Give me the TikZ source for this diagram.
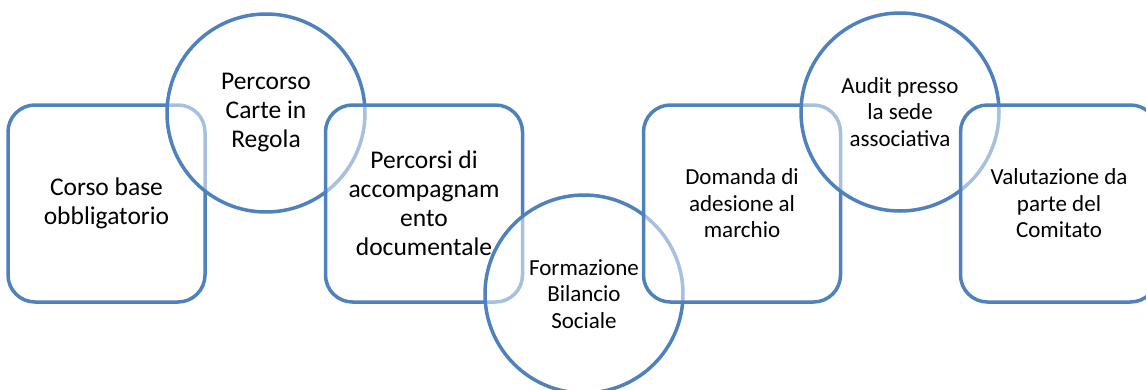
\documentclass[tikz,border=0pt]{standalone}
\usepackage{fontspec}
\setmainfont{Carlito}
\definecolor{stepblue}{HTML}{4F81BD}
\begin{document}
\begin{tikzpicture} [x=1pt,y=-1pt,
	stepbox/.style={draw=stepblue,line width=3.5pt,rounded corners=27pt,fill=white,fill opacity=0.5,text opacity=1,minimum width=197pt,minimum height=197pt,inner sep=0pt,align=center},
	stepring/.style={draw=stepblue,line width=3.5pt,circle,fill=white,fill opacity=0.5,text opacity=1,minimum size=198pt,inner sep=0pt,align=center},
	bigtext/.style={font=\fontsize{25.5}{29}\selectfont},
	smalltext/.style={font=\fontsize{23}{26.5}\selectfont}]
		\useasboundingbox (0,0) rectangle (1146,389);
		\clip (0,0) rectangle (1146,389);
		\node [stepbox,bigtext] (corso) at (106.5,203.5) {Corso base\\obbligatorio};
		\node [stepring,bigtext] (carte) at (266,113) {Percorso\\Carte in\\Regola};
		\node [stepbox,bigtext] (accomp) at (424,203.5) {Percorsi di\\accompagnam\\ento\\documentale};
		\node [stepring,smalltext] (bilancio) at (584,294) {Formazione\\Bilancio\\Sociale};
		\node [stepbox,smalltext] (domanda) at (742,203.5) {Domanda di\\adesione al\\marchio};
		\node [stepring,smalltext] (audit) at (900,112) {Audit presso\\la sede\\associativa};
		\node [stepbox,smalltext] (comitato) at (1059,203.5) {Valutazione da\\parte del\\Comitato};
	\end{tikzpicture}
\end{document}
